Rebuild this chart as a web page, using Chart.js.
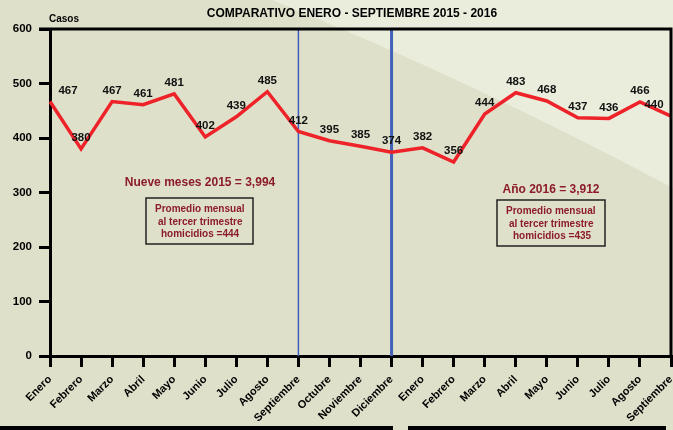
<!DOCTYPE html>
<html>
<head>
<meta charset="utf-8">
<script src="https://cdn.jsdelivr.net/npm/chart.js@4.4.1/dist/chart.umd.min.js"></script>
<style>
  html, body { margin: 0; padding: 0; background: #dfe0ca; }
  #wrap { width: 673px; height: 430px; position: relative; }
</style>
</head>
<body>
<div id="wrap"><canvas id="c" width="673" height="430"></canvas></div>
<script>
// ---- data ----
const months2015 = ['Enero','Febrero','Marzo','Abril','Mayo','Junio','Julio','Agosto','Septiembre','Octubre','Noviembre','Diciembre'];
const months2016 = ['Enero','Febrero','Marzo','Abril','Mayo','Junio','Julio','Agosto','Septiembre'];
const cases2015 = [467, 380, 467, 461, 481, 402, 439, 485, 412, 395, 385, 374];
const cases2016 = [382, 356, 444, 483, 468, 437, 436, 466, 440];
const yTickValues = [0, 100, 200, 300, 400, 500, 600];
const titleText = 'COMPARATIVO ENERO - SEPTIEMBRE 2015 - 2016';
const yAxisTitle = 'Casos';
const note2015 = 'Nueve meses 2015 = 3,994';
const box2015 = ['Promedio mensual', 'al tercer trimestre', 'homicidios =444'];
const note2016 = 'Año 2016 = 3,912';
const box2016 = ['Promedio mensual', 'al tercer trimestre', 'homicidios =435'];
const separatorIndices = [8, 11];

const categories = months2015.concat(months2016);
const values = cases2015.concat(cases2016);

const FONT = "'Liberation Sans', Arial, sans-serif";
const DARKRED = '#8c1c28';

const decor = {
  id: 'decor',
  beforeDraw(chart) {
    const ctx = chart.ctx;
    const W = chart.width, H = chart.height;
    ctx.save();
    ctx.fillStyle = '#dfe0ca';
    ctx.fillRect(0, 0, W, H);
    ctx.fillStyle = '#eaecdc';
    ctx.beginPath();
    ctx.moveTo(272, 0);
    ctx.lineTo(W, 0);
    ctx.lineTo(W, 188);
    ctx.quadraticCurveTo(470, 80, 272, 0);
    ctx.closePath();
    ctx.fill();
    ctx.restore();
  },
  beforeDatasetsDraw(chart) {
    const ctx = chart.ctx, a = chart.chartArea, xs = chart.scales.x;
    ctx.save();
    separatorIndices.forEach((idx, i) => {
      const x = xs.getPixelForValue(idx);
      ctx.strokeStyle = i === 0 ? '#3d5cc0' : '#4262b8';
      ctx.lineWidth = i === 0 ? 1.5 : 3;
      ctx.beginPath();
      ctx.moveTo(x, a.top);
      ctx.lineTo(x, a.bottom);
      ctx.stroke();
    });
    ctx.restore();
  },
  afterDraw(chart) {
    const ctx = chart.ctx, a = chart.chartArea;
    ctx.save();
    // top & right frame
    ctx.strokeStyle = '#000';
    ctx.lineWidth = 3;
    ctx.beginPath();
    ctx.moveTo(a.left - 11, a.top);
    ctx.lineTo(a.right, a.top);
    ctx.lineTo(a.right, a.bottom);
    ctx.stroke();

    // data labels
    ctx.fillStyle = '#111';
    ctx.font = 'bold 11.5px ' + FONT;
    ctx.textAlign = 'center';
    ctx.textBaseline = 'middle';
    const meta = chart.getDatasetMeta(0);
    meta.data.forEach((pt, i) => {
      const x = Math.min(Math.max(pt.x, a.left + 18), a.right - 17);
      ctx.fillText(String(values[i]), x, pt.y - 11);
    });

    // title and axis title
    ctx.fillStyle = '#000';
    ctx.font = 'bold 12px ' + FONT;
    ctx.fillText(titleText, 352, 14);
    ctx.font = 'bold 10px ' + FONT;
    ctx.textAlign = 'left';
    ctx.fillText(yAxisTitle, 49, 19.5);

    // annotations
    ctx.fillStyle = DARKRED;
    ctx.textAlign = 'center';
    ctx.font = 'bold 12px ' + FONT;
    ctx.fillText(note2015, 200, 183);
    ctx.fillText(note2016, 551, 190);

    ctx.strokeStyle = '#222';
    ctx.lineWidth = 1.5;
    ctx.strokeRect(146, 198, 107, 46);
    ctx.strokeRect(497, 200, 108, 46);

    ctx.textAlign = 'left';
    ctx.font = 'bold 10px ' + FONT;
    const off1 = [155, 158, 161], off2 = [506, 509, 513];
    box2015.forEach((t, i) => ctx.fillText(t, off1[i], 209.5 + i * 12.5));
    box2016.forEach((t, i) => ctx.fillText(t, off2[i], 211 + i * 12.8));

    // bottom decoration lines
    ctx.fillStyle = '#000';
    ctx.fillRect(0, 426, 393, 4);
    ctx.fillRect(408, 426, 258, 4);
    ctx.fillRect(239, 426, 2.5, 4);
    ctx.fillRect(546, 426, 2.5, 4);
    ctx.restore();
  }
};

new Chart(document.getElementById('c'), {
  type: 'line',
  data: {
    labels: categories,
    datasets: [{
      data: values,
      borderColor: '#ee2229',
      borderWidth: 3.5,
      pointRadius: 0,
      tension: 0,
      fill: false
    }]
  },
  options: {
    responsive: false,
    animation: false,
    events: [],
    layout: { padding: { top: 29, right: 2, left: 0, bottom: 0 } },
    plugins: { legend: { display: false }, tooltip: { enabled: false }, title: { display: false } },
    scales: {
      x: {
        type: 'category',
        offset: false,
        afterFit(s) { s.height = 74; s.paddingRight = 0; s.paddingLeft = 0; },
        grid: { display: true, drawOnChartArea: false, drawTicks: true, tickLength: 11, color: '#000', lineWidth: 3 },
        border: { display: true, color: '#000', width: 3 },
        ticks: {
          autoSkip: false, maxRotation: 45, minRotation: 45, padding: 6,
          color: '#000', font: { family: FONT, size: 11, weight: 'bold' }
        }
      },
      y: {
        min: 0, max: 600,
        afterFit(s) { s.width = 50; s.paddingTop = 0; s.paddingBottom = 0; },
        afterBuildTicks(s) { s.ticks = yTickValues.map(v => ({ value: v })); },
        grid: { display: true, drawOnChartArea: false, drawTicks: true, tickLength: 11, color: '#000', lineWidth: 3 },
        border: { display: true, color: '#000', width: 3 },
        ticks: { padding: 7, color: '#000', font: { family: FONT, size: 11.5, weight: 'bold' } }
      }
    }
  },
  plugins: [decor]
});
</script>
</body>
</html>
